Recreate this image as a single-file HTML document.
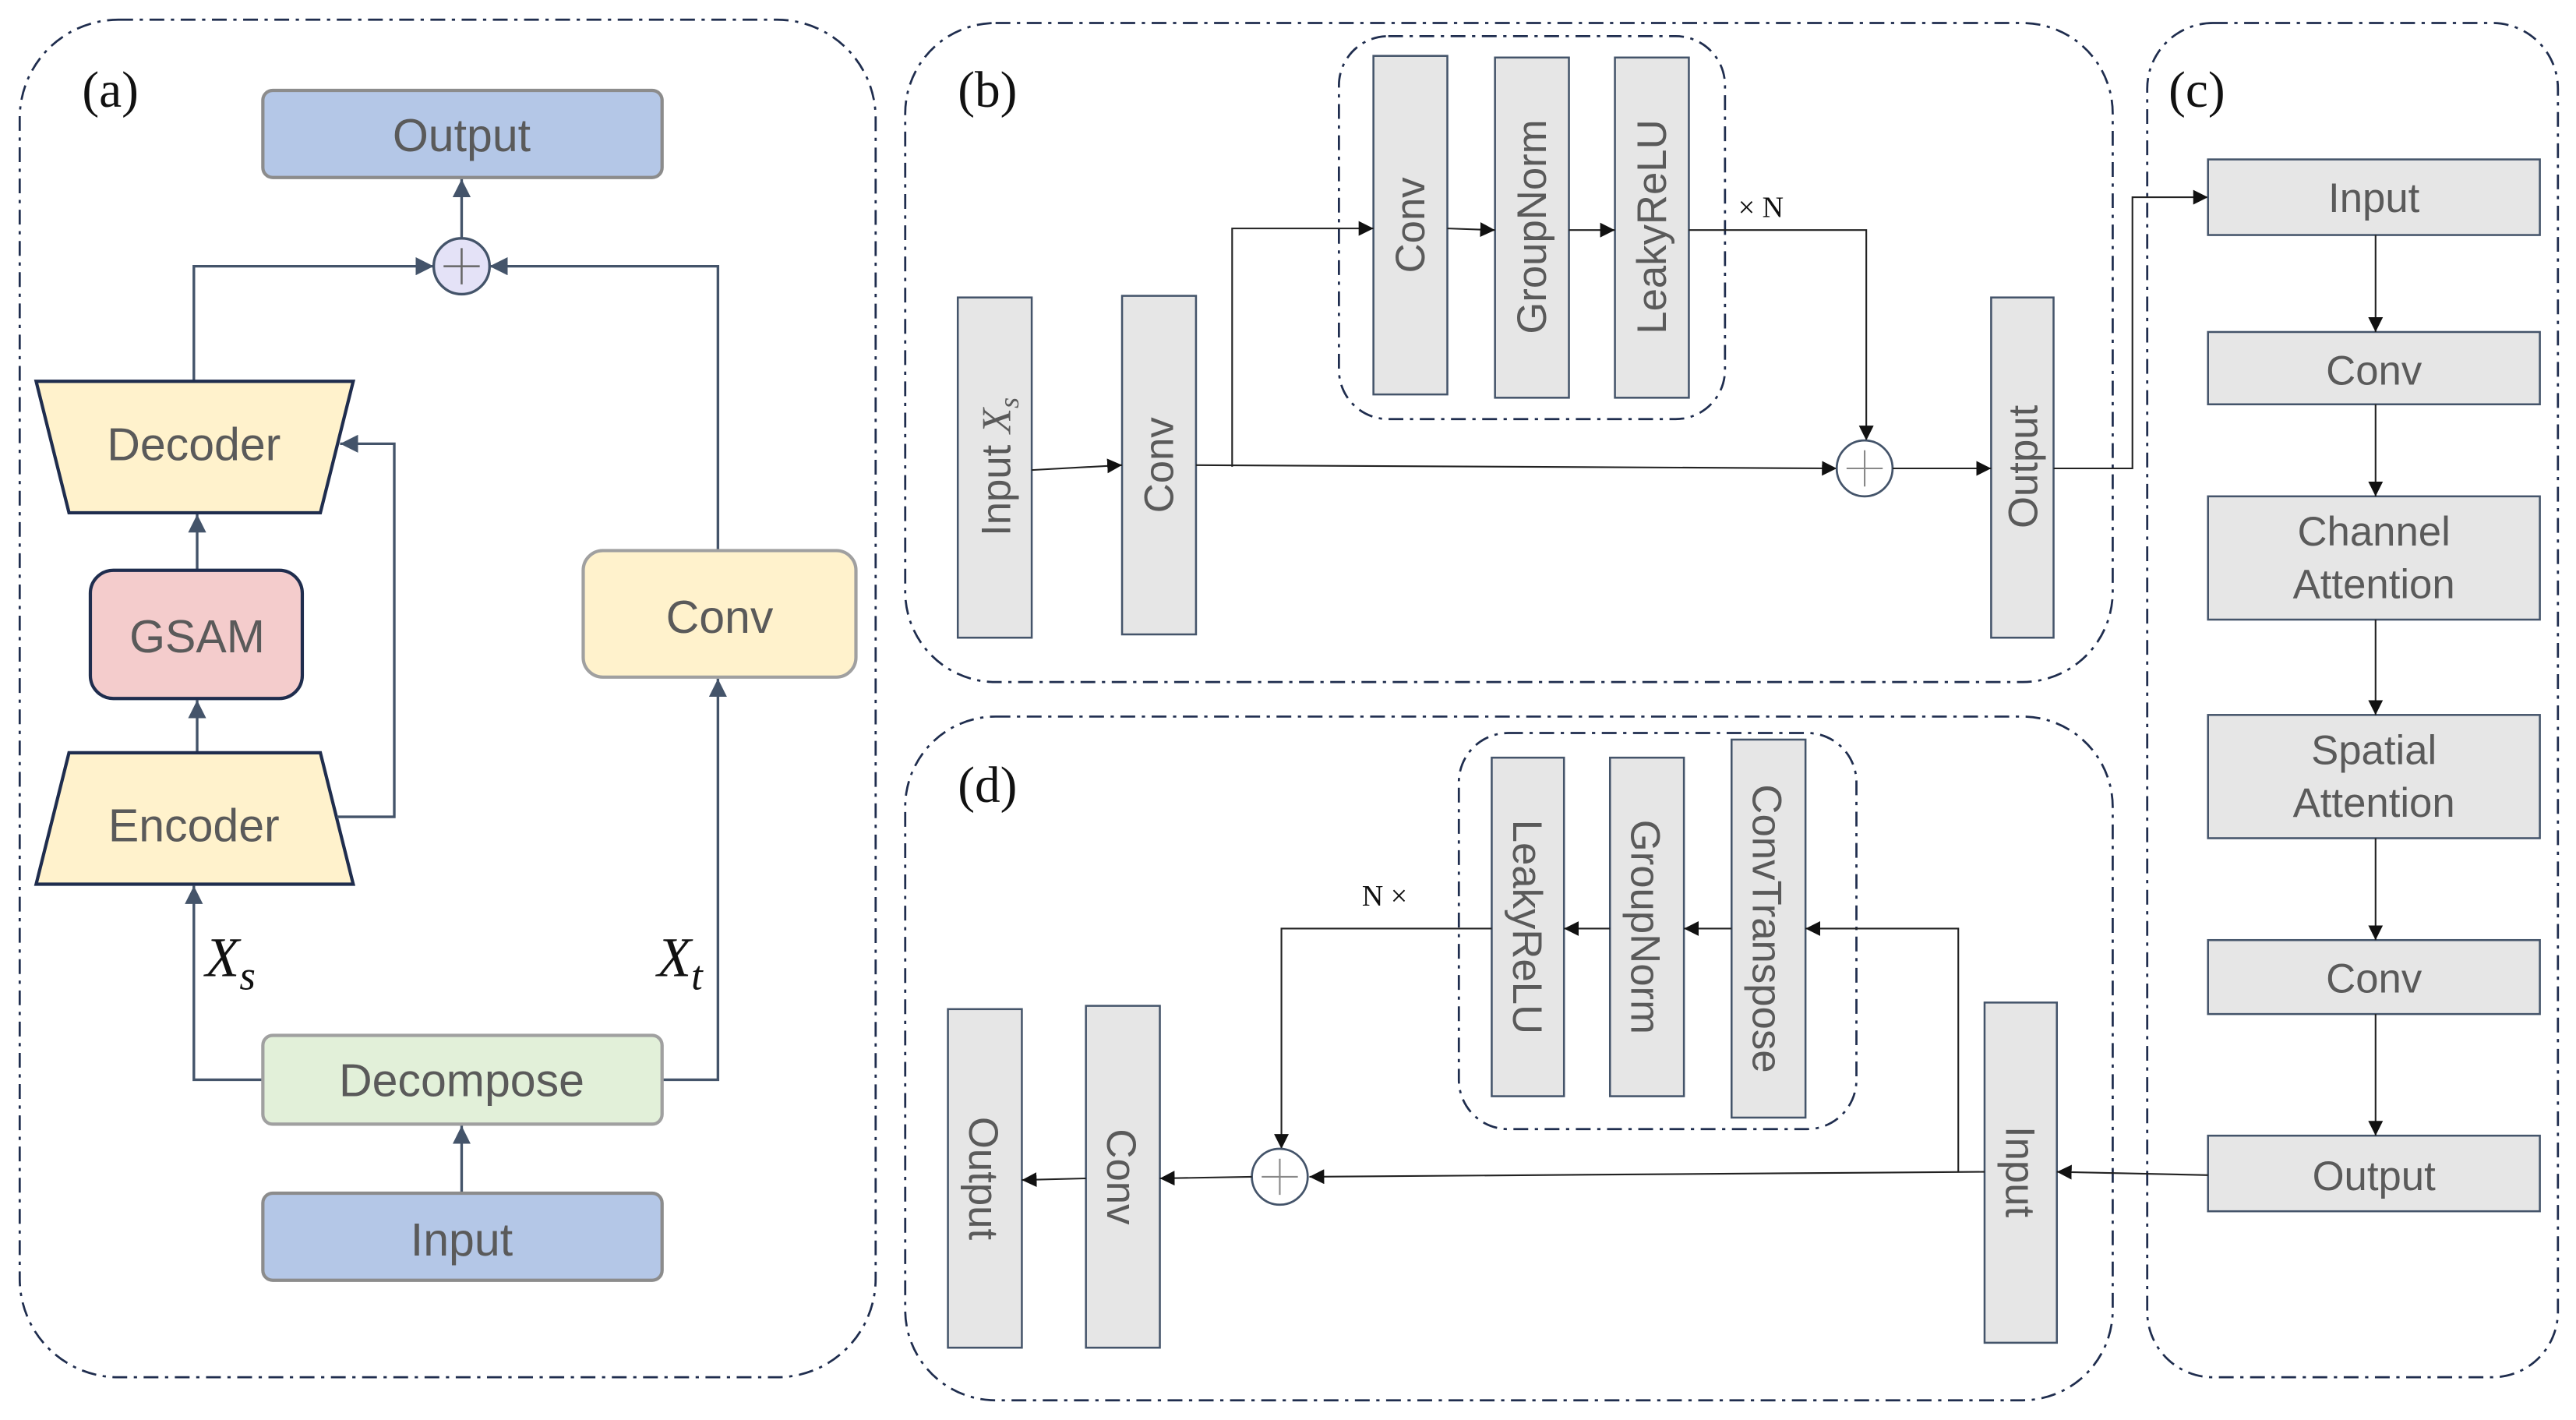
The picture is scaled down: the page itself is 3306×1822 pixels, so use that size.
<!DOCTYPE html>
<html><head><meta charset="utf-8"><style>
html,body{margin:0;padding:0;background:#fff;}
svg{display:block;}
.dd{fill:none;stroke:#1f2d4e;stroke-width:1.3;stroke-dasharray:9 4 2 4;}
.bx{fill:#e6e6e6;stroke:#44546a;stroke-width:1.2;}
.ln{fill:none;stroke:#222;stroke-width:1;}
.la{fill:none;stroke:#44546a;stroke-width:1.6;}
.t{font-family:"Liberation Sans",sans-serif;fill:#5a5a5a;font-size:25px;}
.ta{font-family:"Liberation Sans",sans-serif;fill:#5a5a5a;font-size:28px;}
.lbl{font-family:"Liberation Serif",serif;fill:#111;font-size:31px;}
</style></head><body>
<svg width="3306" height="1822" viewBox="0 0 1568 864" preserveAspectRatio="none" xmlns="http://www.w3.org/2000/svg">
<defs>
<marker id="ab" viewBox="0 0 10 10" refX="10" refY="5" markerWidth="9" markerHeight="9" markerUnits="userSpaceOnUse" orient="auto"><path d="M0,0L10,5L0,10z" fill="#111"/></marker>
<marker id="as" viewBox="0 0 10 10" refX="10" refY="5" markerWidth="11" markerHeight="11" markerUnits="userSpaceOnUse" orient="auto"><path d="M0,0L10,5L0,10z" fill="#44546a"/></marker>
</defs>
<rect width="1568" height="864" fill="#fff"/>

<!-- Panel a -->
<rect class="dd" x="12" y="12" width="521" height="826" rx="60"/>
<text class="lbl" x="50" y="65">(a)</text>
<rect x="160" y="55" width="243" height="53" rx="6" fill="#b4c7e7" stroke="#8c8c8c" stroke-width="2"/>
<text class="ta" x="281" y="92" text-anchor="middle">Output</text>
<line class="la" x1="281" y1="145" x2="281" y2="109" marker-end="url(#as)"/>
<polyline class="la" points="118,232 118,162 264,162" marker-end="url(#as)"/>
<polyline class="la" points="437,335 437,162 298,162" marker-end="url(#as)"/>
<circle cx="281" cy="162" r="17" fill="#e4e2f7" stroke="#44546a" stroke-width="1.6"/>
<path d="M270,162H292M281,151V173" stroke="#666" stroke-width="1.2"/>
<polygon points="22,232 215,232 195,312 42,312" fill="#fff2cc" stroke="#1f2d4e" stroke-width="2"/>
<text class="ta" x="118" y="280" text-anchor="middle">Decoder</text>
<line class="la" x1="120" y1="347" x2="120" y2="313" marker-end="url(#as)"/>
<rect x="55" y="347" width="129" height="78" rx="14" fill="#f4cccc" stroke="#1f2d4e" stroke-width="2"/>
<text class="ta" x="120" y="397" text-anchor="middle">GSAM</text>
<line class="la" x1="120" y1="458" x2="120" y2="426" marker-end="url(#as)"/>
<polygon points="42,458 195,458 215,538 22,538" fill="#fff2cc" stroke="#1f2d4e" stroke-width="2"/>
<text class="ta" x="118" y="512" text-anchor="middle">Encoder</text>
<polyline class="la" points="205,497 240,497 240,270 207,270" marker-end="url(#as)"/>
<polyline class="la" points="160,657 118,657 118,539" marker-end="url(#as)"/>
<text x="125" y="594" font-family="Liberation Serif,serif" font-style="italic" font-size="34" fill="#111">X<tspan font-size="25" dy="8">s</tspan></text>
<rect x="355" y="335" width="166" height="77" rx="12" fill="#fff2cc" stroke="#a0a0a0" stroke-width="2"/>
<text class="ta" x="438" y="385" text-anchor="middle">Conv</text>
<polyline class="la" points="403,657 437,657 437,413" marker-end="url(#as)"/>
<text x="400" y="594" font-family="Liberation Serif,serif" font-style="italic" font-size="34" fill="#111">X<tspan font-size="25" dy="8">t</tspan></text>
<rect x="160" y="630" width="243" height="54" rx="6" fill="#e2f0d9" stroke="#a0a0a0" stroke-width="2"/>
<text class="ta" x="281" y="667" text-anchor="middle">Decompose</text>
<line class="la" x1="281" y1="726" x2="281" y2="685" marker-end="url(#as)"/>
<rect x="160" y="726" width="243" height="53" rx="6" fill="#b4c7e7" stroke="#8c8c8c" stroke-width="2"/>
<text class="ta" x="281" y="764" text-anchor="middle">Input</text>

<!-- Panel b -->
<rect class="dd" x="551" y="14" width="735" height="401" rx="55"/>
<rect class="dd" x="815" y="22" width="235" height="233" rx="30"/>
<text class="lbl" x="583" y="65">(b)</text>
<rect class="bx" x="583" y="181" width="45" height="207"/>
<text class="t" transform="translate(615,284) rotate(-90)" text-anchor="middle">Input <tspan font-family="Liberation Serif,serif" font-style="italic">X<tspan font-size="17" dy="5">s</tspan></tspan></text>
<rect class="bx" x="683" y="180" width="45" height="206"/>
<text class="t" transform="translate(714,283) rotate(-90)" text-anchor="middle">Conv</text>
<rect class="bx" x="836" y="34" width="45" height="206"/>
<text class="t" transform="translate(867,137) rotate(-90)" text-anchor="middle">Conv</text>
<rect class="bx" x="910" y="35" width="45" height="207"/>
<text class="t" transform="translate(941,138) rotate(-90)" text-anchor="middle">GroupNorm</text>
<rect class="bx" x="983" y="35" width="45" height="207"/>
<text class="t" transform="translate(1014,138) rotate(-90)" text-anchor="middle">LeakyReLU</text>
<rect class="bx" x="1212" y="181" width="38" height="207"/>
<text class="t" transform="translate(1240,284) rotate(-90)" text-anchor="middle">Output</text>
<line class="ln" x1="628" y1="286" x2="683" y2="283" marker-end="url(#ab)"/>
<line class="ln" x1="728" y1="283" x2="1118" y2="285" marker-end="url(#ab)"/>
<polyline class="ln" points="750,284 750,139 836,139" marker-end="url(#ab)"/>
<line class="ln" x1="881" y1="139" x2="910" y2="140" marker-end="url(#ab)"/>
<line class="ln" x1="955" y1="140" x2="983" y2="140" marker-end="url(#ab)"/>
<polyline class="ln" points="1028,140 1136,140 1136,268" marker-end="url(#ab)"/>
<text x="1058" y="132" font-family="Liberation Serif,serif" font-size="18" fill="#111">× N</text>
<circle cx="1135" cy="285" r="17" fill="#fff" stroke="#44546a" stroke-width="1.3"/>
<path d="M1124,285H1146M1135,274V296" stroke="#888" stroke-width="1"/>
<line class="ln" x1="1152" y1="285" x2="1212" y2="285" marker-end="url(#ab)"/>
<polyline class="ln" points="1250,285 1298,285 1298,120 1344,120" marker-end="url(#ab)"/>

<!-- Panel c -->
<rect class="dd" x="1307" y="14" width="250" height="824" rx="40"/>
<text class="lbl" x="1320" y="65">(c)</text>
<g>
<rect class="bx" x="1344" y="97" width="202" height="46"/>
<text class="t" x="1445" y="129" text-anchor="middle">Input</text>
<rect class="bx" x="1344" y="202" width="202" height="44"/>
<text class="t" x="1445" y="234" text-anchor="middle">Conv</text>
<rect class="bx" x="1344" y="302" width="202" height="75"/>
<text class="t" x="1445" y="332" text-anchor="middle">Channel</text>
<text class="t" x="1445" y="364" text-anchor="middle">Attention</text>
<rect class="bx" x="1344" y="435" width="202" height="75"/>
<text class="t" x="1445" y="465" text-anchor="middle">Spatial</text>
<text class="t" x="1445" y="497" text-anchor="middle">Attention</text>
<rect class="bx" x="1344" y="572" width="202" height="45"/>
<text class="t" x="1445" y="604" text-anchor="middle">Conv</text>
<rect class="bx" x="1344" y="691" width="202" height="46"/>
<text class="t" x="1445" y="724" text-anchor="middle">Output</text>
<line class="ln" x1="1446" y1="143" x2="1446" y2="202" marker-end="url(#ab)"/>
<line class="ln" x1="1446" y1="246" x2="1446" y2="302" marker-end="url(#ab)"/>
<line class="ln" x1="1446" y1="377" x2="1446" y2="435" marker-end="url(#ab)"/>
<line class="ln" x1="1446" y1="510" x2="1446" y2="572" marker-end="url(#ab)"/>
<line class="ln" x1="1446" y1="617" x2="1446" y2="691" marker-end="url(#ab)"/>
</g>

<!-- Panel d -->
<rect class="dd" x="551" y="436" width="735" height="416" rx="55"/>
<rect class="dd" x="888" y="446" width="242" height="241" rx="30"/>
<text class="lbl" x="583" y="488">(d)</text>
<rect class="bx" x="908" y="461" width="44" height="206"/>
<text class="t" transform="translate(921,564) rotate(90)" text-anchor="middle">LeakyReLU</text>
<rect class="bx" x="980" y="461" width="45" height="206"/>
<text class="t" transform="translate(993,564) rotate(90)" text-anchor="middle">GroupNorm</text>
<rect class="bx" x="1054" y="450" width="45" height="230"/>
<text class="t" transform="translate(1067,565) rotate(90)" text-anchor="middle">ConvTranspose</text>
<rect class="bx" x="1208" y="610" width="44" height="207"/>
<text class="t" transform="translate(1221,713) rotate(90)" text-anchor="middle">Input</text>
<rect class="bx" x="661" y="612" width="45" height="208"/>
<text class="t" transform="translate(674,716) rotate(90)" text-anchor="middle">Conv</text>
<rect class="bx" x="577" y="614" width="45" height="206"/>
<text class="t" transform="translate(590,717) rotate(90)" text-anchor="middle">Output</text>
<line class="ln" x1="1344" y1="715" x2="1252" y2="713" marker-end="url(#ab)"/>
<line class="ln" x1="1208" y1="713" x2="797" y2="716" marker-end="url(#ab)"/>
<polyline class="ln" points="1192,713 1192,565 1099,565" marker-end="url(#ab)"/>
<line class="ln" x1="1054" y1="565" x2="1025" y2="565" marker-end="url(#ab)"/>
<line class="ln" x1="980" y1="565" x2="952" y2="565" marker-end="url(#ab)"/>
<polyline class="ln" points="908,565 780,565 780,699" marker-end="url(#ab)"/>
<text x="829" y="551" font-family="Liberation Serif,serif" font-size="18" fill="#111">N ×</text>
<circle cx="779" cy="716" r="17" fill="#fff" stroke="#44546a" stroke-width="1.3"/>
<path d="M768,716H790M779,705V727" stroke="#888" stroke-width="1"/>
<line class="ln" x1="762" y1="716" x2="706" y2="717" marker-end="url(#ab)"/>
<line class="ln" x1="661" y1="717" x2="622" y2="718" marker-end="url(#ab)"/>
</svg>
</body></html>
